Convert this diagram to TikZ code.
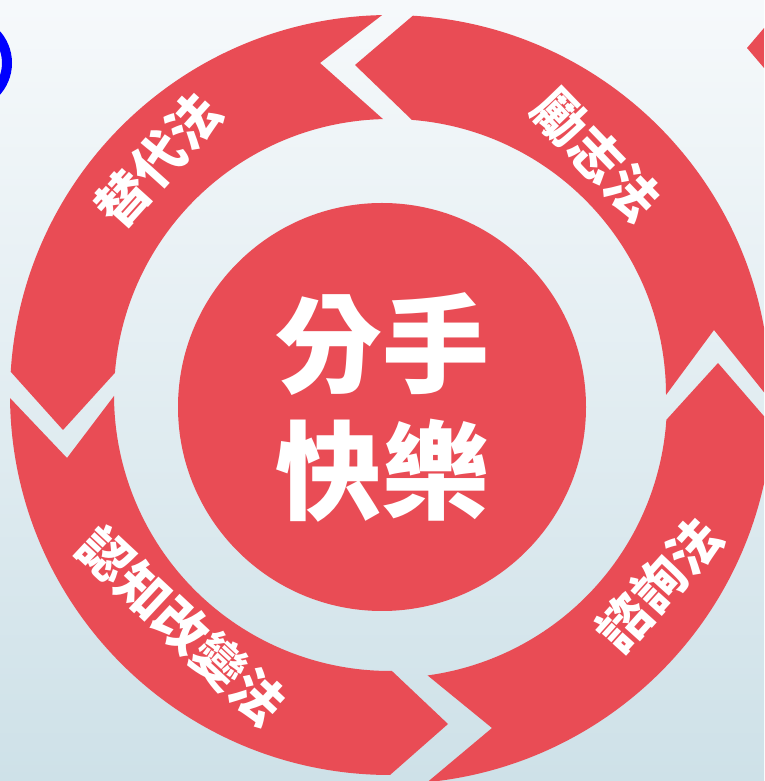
\documentclass[tikz,border=0pt]{standalone}
\usepackage{fontspec}
\newfontfamily\cjk{Noto Sans CJK TC}
\usetikzlibrary{calc}
\definecolor{segred}{RGB}{233,76,85}
\definecolor{bgtop}{RGB}{246,249,251}
\definecolor{bgbot}{RGB}{206,225,232}
\definecolor{arcblue}{RGB}{0,0,255}
\begin{document}
\begin{tikzpicture}[x=1pt,y=1pt,
  seg/.style={fill=segred, draw=none},
  lab/.style={text=white, inner sep=0pt, font=\cjk\bfseries\fontsize{52}{60}\selectfont},
  hub/.style={circle, fill=segred, inner sep=0pt, minimum size=408pt, text=white, align=center,
              font=\cjk\bfseries\fontsize{107}{127}\selectfont}]
\useasboundingbox (0,0) rectangle (764,781);
\clip (0,0) rectangle (764,781);
\shade[top color=bgtop, bottom color=bgbot] (0,0) rectangle (764,781);
\coordinate (A) at (390,386);
\coordinate (B) at (390,380);
% tips and notches
\coordinate (tipT) at (355,716);
\coordinate (notT) at (320,718);
\coordinate (tipL) at (63,351);
\coordinate (notL) at (67,323);
\coordinate (tipB) at (448,57);
\coordinate (notB) at (492,53);
\coordinate (tipR) at (718,418);
\coordinate (notR) at (714,451);
% 替代法
\fill[seg] ($(A)+(91.2:380pt)$) arc[start angle=91.2, end angle=176.5, radius=380pt]
  -- (tipL) -- ($(A)+(175.4:276pt)$) arc[start angle=175.4, end angle=91.45, radius=276pt]
  -- (notT) -- cycle;
% 勵志法
\fill[seg] ($(A)+(-0.7:380pt)$) arc[start angle=-0.7, end angle=86.55, radius=380pt]
  -- (tipT) -- ($(A)+(85.46:276pt)$) arc[start angle=85.46, end angle=0, radius=276pt]
  -- (notR) -- cycle;
% 認知改變法
\fill[seg] ($(A)+(180.46:380pt)$) arc[start angle=180.46, end angle=270, radius=380pt]
  -- (tipB) -- ($(A)+(270.4:276pt)$) arc[start angle=270.4, end angle=180.2, radius=276pt]
  -- (notL) -- cycle;
% 諮詢法
\fill[seg] ($(B)+(275.6:383pt)$) arc[start angle=275.6, end angle=356.3, radius=383pt]
  -- (tipR) -- ($(B)+(356.1:277pt)$) arc[start angle=356.1, end angle=277.8, radius=277pt]
  -- (notB) -- cycle;
% centre
\node[hub] (hubnode) at (382,374) {分手\\快樂};
% labels
\node[lab, rotate=48] (l1) at (158,621) {替代法};
\node[lab, rotate=-46] (l2) at (597,626) {勵志法};
\node[lab, rotate=48] (l3) at (659,197) {諮詢法};
\node[lab, rotate=-43] (l4) at (182,155) {認知改變法};
% partial shapes at the edges
\draw[arcblue, line width=10pt] (-36,718) circle[radius=43pt];
\fill[segred] (747,733) -- (770,760) -- (770,706) -- cycle;
\end{tikzpicture}
\end{document}
